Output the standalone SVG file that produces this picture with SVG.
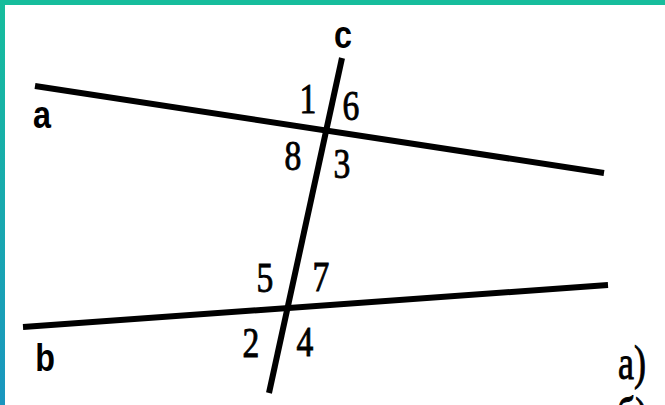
<svg xmlns="http://www.w3.org/2000/svg" width="665" height="405" viewBox="0 0 665 405">
<defs>
<linearGradient id="lg" x1="0" y1="0" x2="0" y2="1">
<stop offset="0" stop-color="#16bd9c"/>
<stop offset="1" stop-color="#1a96bf"/>
</linearGradient>
<style>
.ln{stroke:#000;stroke-width:6;fill:none;stroke-linecap:butt}
.num{font-family:"Liberation Serif","Times New Roman",serif;font-size:42px;fill:#000;stroke:#000;stroke-width:0.9;text-anchor:middle}
.let{font-family:"Liberation Sans",Arial,sans-serif;font-weight:bold;font-size:38px;fill:#000;text-anchor:middle}
</style>
</defs>
<rect width="665" height="405" fill="#fff"/>
<rect x="0" y="0" width="665" height="5" fill="#16bd9c"/>
<rect x="0" y="0" width="5" height="405" fill="url(#lg)"/>
<g id="lines">
<line id="line-a" class="ln" x1="35" y1="86" x2="604" y2="173"/>
<line id="line-b" class="ln" x1="23" y1="327" x2="608" y2="285"/>
<line id="line-c" class="ln" x1="342" y1="58" x2="269" y2="393"/>
</g>
<g id="labels">
<text class="let" transform="translate(343,48) scale(0.85,1)">c</text>
<text class="let" transform="translate(42,128) scale(0.85,1)">a</text>
<text class="let" transform="translate(45,371) scale(0.85,1)">b</text>
<text class="num" transform="translate(308,113) scale(0.8,1)">1</text>
<text class="num" transform="translate(351,120) scale(0.8,1)">6</text>
<text class="num" transform="translate(293,170) scale(0.8,1)">8</text>
<text class="num" transform="translate(342,178) scale(0.8,1)">3</text>
<text class="num" transform="translate(265,292) scale(0.8,1)">5</text>
<text class="num" transform="translate(321,291) scale(0.8,1)">7</text>
<text class="num" transform="translate(251,357) scale(0.8,1)">2</text>
<text class="num" transform="translate(305,356) scale(0.8,1)">4</text>
<text class="num" style="font-size:48px" transform="translate(632,379) scale(0.75,1)">a)</text>
<text class="num" style="font-size:48px" transform="translate(632,431) scale(0.75,1)">б)</text>
</g>
</svg>
